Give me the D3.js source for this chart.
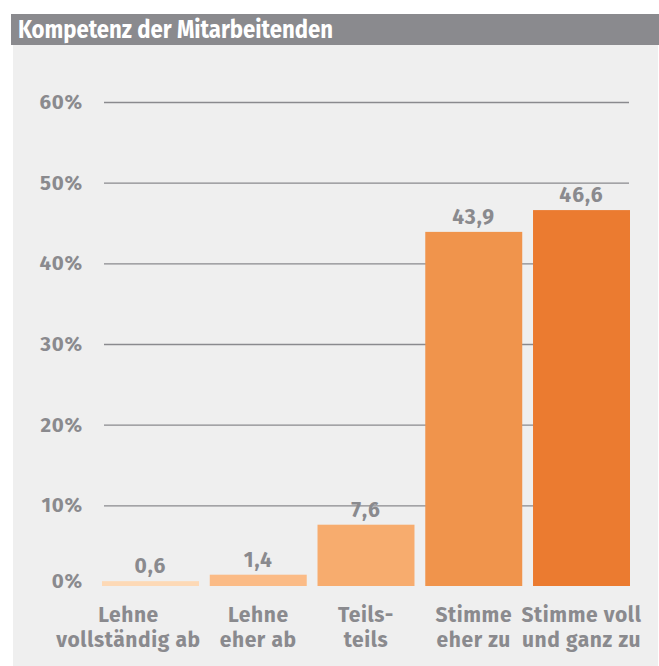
<!DOCTYPE html>
<html><head><meta charset="utf-8">
<script src="https://cdn.jsdelivr.net/npm/d3@7"></script>
<style>body{margin:0;background:#fff}svg{display:block}</style>
</head><body>
<svg id="chart" width="659" height="666"></svg>
<script>
const title = "Kompetenz der Mitarbeitenden";
const categories = [["Lehne","vollständig ab"],["Lehne","eher ab"],["Teils-","teils"],["Stimme","eher zu"],["Stimme voll","und ganz zu"]];
const values = [0.6, 1.4, 7.6, 43.9, 46.6];
const valueLabels = ["0,6","1,4","7,6","43,9","46,6"];
const colors = ["#fdd9b6","#fbbb86","#f7ac6e","#f0944c","#eb7b30"];
const yTicks = [0,10,20,30,40,50,60];

const svg = d3.select("#chart");
const font = "'Fira Sans', Lato, 'Open Sans', sans-serif";
const grey = "#8a8a8e";

svg.append("rect").attr("x",13).attr("y",45).attr("width",645).attr("height",621).attr("fill","#efefef");
svg.append("rect").attr("x",11).attr("y",14).attr("width",648).attr("height",31).attr("fill","#8a8a8e");
svg.append("text").attr("x",18).attr("y",38).text(title)
  .attr("fill","#fff").attr("font-family",font).attr("font-weight",700).attr("font-size",25)
  .attr("textLength",315).attr("lengthAdjust","spacingAndGlyphs");

const y = d3.scaleLinear().domain([0,60]).range([586,102]);
const x = d3.scaleBand().domain(d3.range(values.length)).range([102,630]).paddingInner(0.1).paddingOuter(0);

const yAxis = svg.append("g").attr("transform","translate(104,0)")
  .call(d3.axisLeft(y).tickValues(yTicks).tickSize(-525).tickFormat(d=>d+"%").tickPadding(21));
yAxis.select(".domain").remove();
yAxis.selectAll(".tick line").attr("stroke","#8a8a8e").attr("stroke-width",1.3)
  .attr("display",d=>d===0?"none":null);
yAxis.selectAll(".tick text").attr("fill",grey).attr("font-family",font).attr("font-weight",700).attr("font-size",20.5)
  .attr("letter-spacing",0.8)
  .attr("dy",d=>d===0?"0.05em":"0.32em");

svg.append("g").selectAll("rect").data(values).join("rect")
  .attr("x",(d,i)=>x(i)).attr("width",x.bandwidth())
  .attr("y",d=>y(d)).attr("height",d=>y(0)-y(d))
  .attr("fill",(d,i)=>colors[i]);

svg.append("g").selectAll("text").data(values).join("text")
  .attr("x",(d,i)=>x(i)+x.bandwidth()/2).attr("y",d=>y(d)-8)
  .attr("text-anchor","middle").attr("fill",grey).attr("font-family",font).attr("font-weight",700).attr("font-size",21)
  .attr("letter-spacing",1)
  .text((d,i)=>valueLabels[i]);

const xl = svg.append("g").selectAll("text").data(categories).join("text")
  .attr("x",(d,i)=>x(i)+x.bandwidth()/2 - (i===0?22:0)).attr("y",622)
  .attr("text-anchor","middle").attr("fill",grey).attr("font-family",font).attr("font-weight",700).attr("font-size",21)
  .attr("letter-spacing",0.6);
xl.selectAll("tspan").data(d=>d).join("tspan")
  .attr("x",function(){return this.parentNode.getAttribute("x");})
  .attr("dy",(d,i)=>i?25:0).text(d=>d);
</script>
</body></html>
